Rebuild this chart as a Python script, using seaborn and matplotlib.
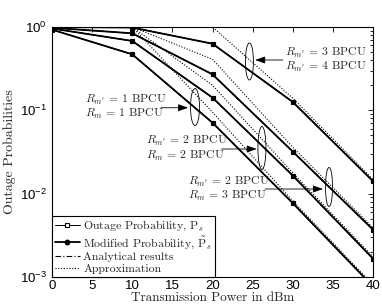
import numpy as np
import pandas as pd
import seaborn as sns
import matplotlib
matplotlib.use("Agg")
import matplotlib.pyplot as plt
from matplotlib.patches import Ellipse
from matplotlib.lines import Line2D
from matplotlib.ticker import LogLocator, NullFormatter

# ---------------- data ----------------
power_dbm = [0, 10, 20, 30, 40]

outage_r34 = [1.0, 0.985, 0.63, 0.126, 0.0141]
outage_r23 = [0.98, 0.84, 0.27, 0.032, 0.0037]
outage_r22 = [0.96, 0.68, 0.142, 0.0165, 0.00166]
outage_r11 = [0.93, 0.47, 0.071, 0.0077, 0.00077]

modified_r34 = [1.0, 0.985, 0.63, 0.126, 0.0141]
modified_r23 = [0.98, 0.84, 0.27, 0.032, 0.0037]
modified_r22 = [0.96, 0.68, 0.142, 0.0165, 0.00166]
modified_r11 = [0.93, 0.47, 0.071, 0.0077, 0.00077]

approx_r34 = [1.0, 1.0, 1.0, 0.14, 0.0148]
approx_r23 = [1.0, 1.0, 0.41, 0.036, 0.0039]
approx_r22 = [1.0, 1.0, 0.20, 0.0178, 0.00175]
approx_r11 = [1.0, 1.0, 0.095, 0.0082, 0.00081]

x_ticks = [0, 5, 10, 15, 20, 25, 30, 35, 40]
legend_labels = ["Outage Probability, $\\mathrm{P}_s$",
                 "Modified Probability, $\\tilde{\\mathrm{P}}_s$",
                 "Analytical results",
                 "Approximation"]
annotations = ["$R_{m'}\\,=\\,3$ BPCU\n$R_{m'}\\,=\\,4$ BPCU",
               "$R_{m'}\\,=\\,1$ BPCU\n$R_m\\,=\\,1$ BPCU",
               "$R_{m'}\\,=\\,2$ BPCU\n$R_m\\,=\\,2$ BPCU",
               "$R_{m'}\\,=\\,2$ BPCU\n$R_m\\,=\\,3$ BPCU"]

# ---------------- style ----------------
sns.set_theme(style="white")
plt.rcParams['font.family'] = ['Liberation Sans', 'DejaVu Sans']
plt.rcParams['mathtext.fontset'] = 'custom'
plt.rcParams['mathtext.rm'] = 'Liberation Sans'
plt.rcParams['mathtext.it'] = 'Liberation Sans:italic'
plt.rcParams['mathtext.bf'] = 'Liberation Sans:bold'
plt.rcParams['axes.unicode_minus'] = True

SERIF = 'cmr10'

fig = plt.figure(figsize=(3.82, 3.05), dpi=100)
ax = fig.add_axes([52/382, 1-277/305, 321/382, 250/305])

groups = [
    (outage_r34, modified_r34, approx_r34),
    (outage_r23, modified_r23, approx_r23),
    (outage_r22, modified_r22, approx_r22),
    (outage_r11, modified_r11, approx_r11),
]

DASHDOT = (0, (5, 2, 1, 2))
DOTTED = (0, (1, 1.5))

for outage, modified, approx in groups:
    df = pd.DataFrame({"power": power_dbm, "outage": outage,
                       "modified": modified, "approx": approx})
    sns.lineplot(data=df, x="power", y="approx", ax=ax, color="black",
                 linewidth=0.8, linestyle=DOTTED, legend=False)
    sns.lineplot(data=df, x="power", y="outage", ax=ax, color="black",
                 linewidth=0.7, linestyle=DASHDOT, legend=False)
    sns.lineplot(data=df, x="power", y="modified", ax=ax, color="black",
                 linewidth=1.3, marker="o", markersize=3.0,
                 markerfacecolor="black", markeredgecolor="black", legend=False)
    sns.lineplot(data=df, x="power", y="outage", ax=ax, color="black",
                 linewidth=0.7, marker="s", markersize=3.2,
                 markerfacecolor="none", markeredgecolor="black",
                 markeredgewidth=0.8, legend=False)

ax.set_yscale("log")
ax.set_xlim(0, 40)
ax.set_ylim(1e-3, 1)
ax.set_xticks(x_ticks)
ax.yaxis.set_major_locator(LogLocator(base=10, numticks=10))
ax.yaxis.set_minor_locator(LogLocator(base=10, subs=np.arange(2, 10), numticks=20))
ax.yaxis.set_minor_formatter(NullFormatter())

ax.tick_params(axis="both", which="both", direction="in", top=True, right=True,
               labelsize=9.5, colors="black", width=0.6)
ax.tick_params(which="major", length=3.5)
ax.tick_params(which="minor", length=2)
ax.tick_params(axis="x", pad=2)
for sp in ax.spines.values():
    sp.set_color("black")
    sp.set_linewidth(0.8)

ax.set_xlabel("Transmission Power in dBm", family=SERIF, fontsize=9.5, labelpad=0)
ax.set_ylabel("Outage Probabilities", family=SERIF, fontsize=10, labelpad=3)

# ---------------- annotations ----------------
ann_pos = [(0.726, 0.868), (0.103, 0.68), (0.293, 0.514), (0.424, 0.352)]
arrows = [((0.719, 0.868), (0.633, 0.868)),
          ((0.340, 0.677), (0.4237, 0.677)),
          ((0.5286, 0.512), (0.6377, 0.512)),
          ((0.6636, 0.352), (0.844, 0.352))]
ellipses = [((0.615, 0.862), 0.025, 0.148),
            ((0.4455, 0.68), 0.028, 0.148),
            ((0.654, 0.516), 0.025, 0.172),
            ((0.863, 0.36), 0.022, 0.156)]

for txt, (tx, ty) in zip(annotations, ann_pos):
    ax.text(tx, ty, txt, transform=ax.transAxes, family=SERIF, math_fontfamily='cm',
            fontsize=8.5, ha="left", va="center", linespacing=1.05)
for (tail, head) in arrows:
    ax.annotate("", xy=head, xytext=tail, xycoords="axes fraction",
                textcoords="axes fraction",
                arrowprops=dict(arrowstyle="-|>,head_length=0.5,head_width=0.18",
                                color="black", lw=0.6, shrinkA=0, shrinkB=0))
for (c, w, h) in ellipses:
    ax.add_patch(Ellipse(c, w, h, transform=ax.transAxes, fill=False,
                         edgecolor="black", linewidth=0.6))

# ---------------- legend ----------------
handles = [
    Line2D([], [], color="black", lw=0.7, marker="s", markersize=3.2,
           markerfacecolor="white", markeredgecolor="black", markeredgewidth=0.8),
    Line2D([], [], color="black", lw=1.3, marker="o", markersize=3.2,
           markerfacecolor="black"),
    Line2D([], [], color="black", lw=0.8, linestyle=DASHDOT),
    Line2D([], [], color="black", lw=0.8, linestyle=DOTTED),
]
leg = ax.legend(handles, legend_labels, loc="lower left", borderaxespad=0,
                frameon=True, fancybox=False, framealpha=1, edgecolor="black",
                prop={"family": SERIF, "size": 8.5}, handlelength=2.1,
                handletextpad=0.3, labelspacing=0.12, borderpad=0.25, numpoints=1)
leg.get_frame().set_linewidth(0.8)
for t in leg.get_texts():
    t.set_math_fontfamily('cm')

fig.savefig("out.png", dpi=100)
